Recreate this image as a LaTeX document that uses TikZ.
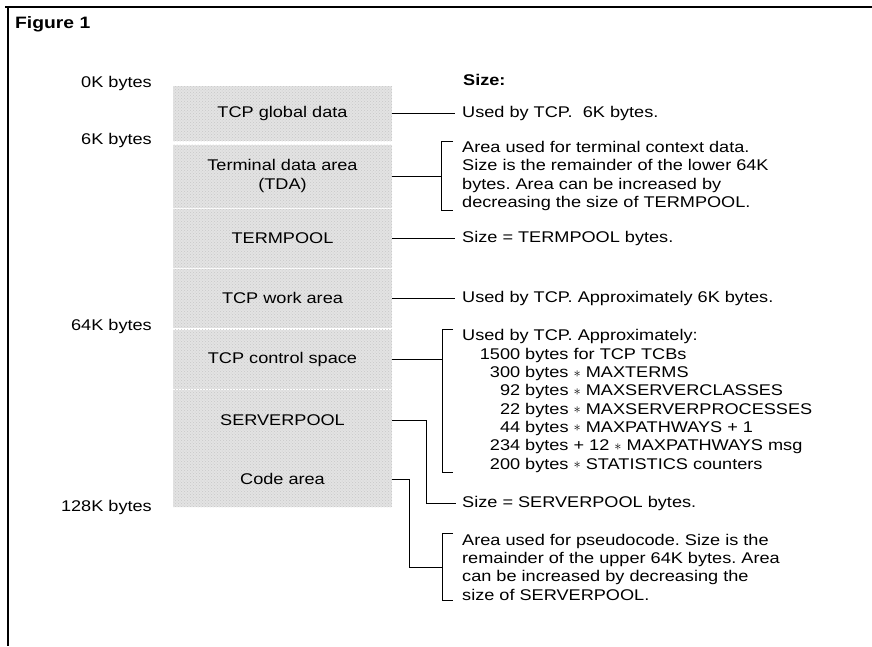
\documentclass[tikz,border=0pt]{standalone}
\usepackage{fontspec}
\setmainfont{Liberation Sans}[FakeStretch=1.17]
\usetikzlibrary{patterns}
\newcommand\numbox[1]{\makebox[58pt][r]{#1}}
\newcommand\mystar{\raisebox{0.5pt}{$\ast$}}
\begin{document}
\frenchspacing
\begin{tikzpicture}[x=1pt,y=-1pt,
  font=\fontsize{15.5}{18.3}\selectfont,
  blk/.style={fill=black!11, postaction={pattern=crosshatch dots, pattern color=black!22},
    minimum width=219pt, inner sep=0pt, align=center},
  lbl/.style={anchor=west, inner sep=0pt, align=left},
  lft/.style={anchor=east, inner sep=0pt},
  con/.style={line width=0.9pt},
  frameline/.style={line width=1.4pt}]
\useasboundingbox (0,0) rectangle (872,646);
% frame
\draw[frameline] (5,7) -- (872,7);
\draw[frameline] (8,7) -- (8,646);
\node[anchor=west, inner sep=0pt, font=\fontsize{16.5}{18}\selectfont\bfseries] (fig) at (15,24) {Figure 1};
% left labels
\node[lft] (k0) at (152,83) {0K bytes};
\node[lft] (k6) at (152,140) {6K bytes};
\node[lft] (k64) at (152,326) {64K bytes};
\node[lft] (k128) at (152,507) {128K bytes};
% blocks
\node[blk, minimum height=55pt] (b1) at (282.5,113.5) {TCP global data};
\node[blk, minimum height=63pt] (b2) at (282.5,176) {Terminal data area\\(TDA)};
\node[blk, minimum height=59pt] (b3) at (282.5,238) {TERMPOOL};
\node[blk, minimum height=59pt] (b4) at (282.5,298) {TCP work area};
\node[blk, minimum height=59pt] (b5) at (282.5,359) {TCP control space};
\node[blk, minimum height=61pt] (b6) at (282.5,420) {SERVERPOOL};
\node[blk, minimum height=56pt] (b7) at (282.5,479) {Code area};
% right texts
\node[lbl] (sz) at (463,80) {\bfseries Size:};
\node[lbl] (t1) at (462,113) {Used by TCP.\ \ 6K bytes.};
\node[lbl] (t2) at (462,176) {Area used for terminal context data.\\Size is the remainder of the lower 64K\\bytes. Area can be increased by\\decreasing the size of TERMPOOL.};
\node[lbl] (t3) at (462,238) {Size = TERMPOOL bytes.};
\node[lbl] (t4) at (462,298) {Used by TCP. Approximately 6K bytes.};
\node[lbl] (t5) at (462,401) {Used by TCP. Approximately:\\
  \numbox{1500} bytes for TCP TCBs\\
  \numbox{300} bytes \mystar{} MAXTERMS\\
  \numbox{92} bytes \mystar{} MAXSERVERCLASSES\\
  \numbox{22} bytes \mystar{} MAXSERVERPROCESSES\\
  \numbox{44} bytes \mystar{} MAXPATHWAYS + 1\\
  \numbox{234} bytes + 12 \mystar{} MAXPATHWAYS msg\\
  \numbox{200} bytes \mystar{} STATISTICS counters};
\node[lbl] (t6) at (462,503) {Size = SERVERPOOL bytes.};
\node[lbl] (t7) at (462,567) {Area used for pseudocode. Size is the\\remainder of the upper 64K bytes. Area\\can be increased by decreasing the\\size of SERVERPOOL.};
% connectors
\draw[con] (b1.east) -- ([xshift=-7pt]t1.west |- b1.east);
\draw[con] (b2.east) -- ([xshift=-21pt]t2.west |- b2.east);
\draw[con] ([xshift=-9pt]t2.north west) -- ([xshift=-21pt]t2.north west) -- ([xshift=-21pt]t2.south west) -- ([xshift=-9pt]t2.south west);
\draw[con] (b3.east) -- ([xshift=-7pt]t3.west |- b3.east);
\draw[con] (b4.east) -- ([xshift=-7pt]t4.west |- b4.east);
\draw[con] (b5.east) -- ([xshift=-20pt]t5.west |- b5.east);
\draw[con] ([xshift=-9pt]t5.north west) -- ([xshift=-20pt]t5.north west) -- ([xshift=-20pt]t5.south west) -- ([xshift=-9pt]t5.south west);
\draw[con] (b6.east) -- ++(34pt,0) |- ([xshift=-6pt]t6.west);
\draw[con] (b7.east) -- ++(17pt,0) |- ([xshift=-20pt]t7.west);
\draw[con] ([xshift=-9pt]t7.north west) -- ([xshift=-20pt]t7.north west) -- ([xshift=-20pt]t7.south west) -- ([xshift=-9pt]t7.south west);
\end{tikzpicture}
\end{document}
